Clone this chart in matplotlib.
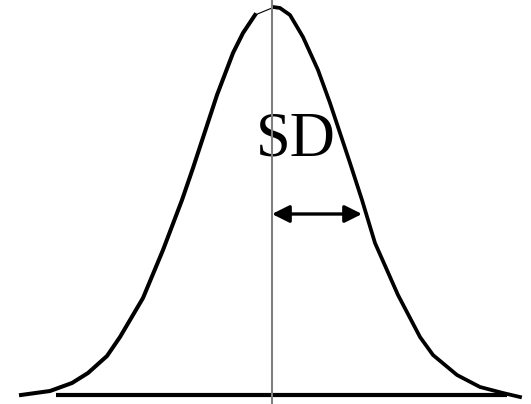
import matplotlib
matplotlib.use("Agg")
import matplotlib.pyplot as plt

# curve: x position, height above the baseline
left_x = [21, 50, 72, 88, 107, 120, 143, 163, 182, 193, 217, 233, 243, 255]
left_y = [0, 4, 12, 22, 39, 58, 97, 145, 195, 227, 300, 342, 362, 380]
peak_x = [255, 272]
peak_y = [380, 387]
right_x = [273, 280, 290, 303, 318, 330, 340, 350, 362, 375, 398, 420, 433, 457, 480, 503, 520]
right_y = [388, 387, 380, 358, 325, 292, 262, 232, 195, 152, 100, 58, 40, 20, 8, 2, -2]

mean_x = 272
sd = 90
arrow_y = 181
base_start = 56
base_end = 507
label = "SD"

fig = plt.figure(figsize=(5.31, 4.04), dpi=100)
ax = fig.add_axes([0, 0, 1, 1])
ax.set_xlim(0, 531)
ax.set_ylim(-9, 395)
ax.axis("off")

ax.plot([base_start, base_end], [0, 0], color="black", lw=3.0, solid_capstyle="butt")
ax.plot(left_x, left_y, color="black", lw=2.9, solid_joinstyle="round")
ax.plot(peak_x, peak_y, color="black", lw=0.8)
ax.plot(right_x, right_y, color="black", lw=2.7, solid_joinstyle="round")

ax.text(256, 240, label, family="Liberation Serif", fontsize=45,
        ha="left", va="baseline", color="black")

ax.annotate("", xy=(mean_x + sd, arrow_y), xytext=(mean_x, arrow_y),
            arrowprops=dict(arrowstyle="<|-|>", color="black", lw=2.4,
                            mutation_scale=26, shrinkA=0, shrinkB=0))

ax.axvline(mean_x, color="#808080", lw=1.5, zorder=5)

fig.savefig("out.png", dpi=100)
